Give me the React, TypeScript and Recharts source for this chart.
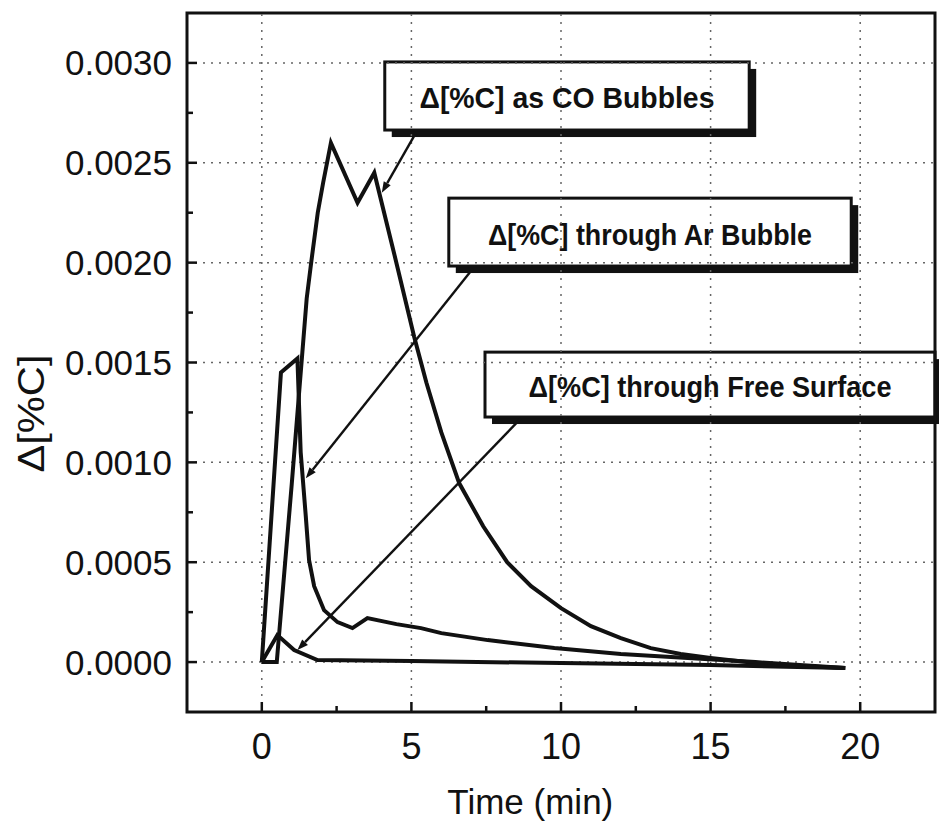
import { LineChart, Line, XAxis, YAxis, ReferenceLine, ReferenceArea, Label } from 'recharts'

// time (min) and Δ[%C]
const coTime = [0, 0.5, 1.0, 1.5, 1.65, 1.87, 2.05, 2.31, 3.2, 3.76, 4.4, 5.09, 5.5, 6.0, 6.6, 7.4, 8.2, 9.0, 10.0, 11.0, 12.0, 13.0, 14.0, 15.0, 16.5, 18.0, 19.5]
const coValue = [0, 0, 0.00089, 0.00182, 0.002, 0.00225, 0.0024, 0.0026, 0.0023, 0.00245, 0.00206, 0.00163, 0.0014, 0.00115, 0.000895, 0.00068, 0.0005, 0.00038, 0.00027, 0.00018, 0.00012, 0.00007, 0.00004, 0.00002, -0.000005, -0.00002, -0.00003]

const arTime = [0, 0.64, 1.19, 1.3, 1.47, 1.58, 1.75, 2.08, 2.53, 3.03, 3.53, 4.5, 5.32, 6.0, 7.55, 9.78, 12.0, 14.24, 16.5, 19.5]
const arValue = [0, 0.00145, 0.00152, 0.00105, 0.00073, 0.00051, 0.00038, 0.00026, 0.0002, 0.00017, 0.00022, 0.00019, 0.00017, 0.000145, 0.00011, 0.00007, 0.00004, 0.00002, 0, -0.00003]

const fsTime = [0, 0.52, 1.08, 1.86, 5, 10, 15, 19.5]
const fsValue = [0, 0.000135, 0.00006, 0.00001, 0.000005, -0.000005, -0.000015, -0.00003]

const xDomain = [-2.5, 22.5]
const yDomain = [-0.00025, 0.00325]
const xMajor = [0, 5, 10, 15, 20]
const xMinor = [2.5, 7.5, 12.5, 17.5]
const yMajor = [0, 0.0005, 0.001, 0.0015, 0.002, 0.0025, 0.003]
const yMinor = [0.00025, 0.00075, 0.00125, 0.00175, 0.00225, 0.00275]

// note boxes: [x1, x2, y1, y2] and text
const notes = [
  { text: 'Δ[%C] as CO Bubbles', box: [4.11, 16.29, 0.002664, 0.003005], textWidth: 295 },
  { text: 'Δ[%C] through Ar Bubble', box: [6.25, 19.7, 0.001983, 0.002323], textWidth: 324 },
  { text: 'Δ[%C] through Free Surface', box: [7.46, 22.5, 0.001227, 0.001552], textWidth: 363 },
]
// arrows: from box to curve
const arrows = [
  [[5.15, 0.00265], [4.01, 0.00235]],
  [[7.05, 0.00197], [1.47, 0.00092]],
  [[8.66, 0.00122], [1.19, 0.00006]],
]

const toSeries = (t: number[], v: number[]) => t.map((time, i) => ({ time, value: v[i] }))
const coData = toSeries(coTime, coValue)
const arData = toSeries(arTime, arValue)
const fsData = toSeries(fsTime, fsValue)

const xTicks = [...xMajor, ...xMinor].sort((a, b) => a - b)
const yTicks = [...yMajor, ...yMinor].sort((a, b) => a - b)
const isMajor = (list: number[], v: number) => list.some(m => Math.abs(m - v) < 1e-9)

const INK = '#111'
const FONT = '"Liberation Sans", Arial, Helvetica, sans-serif'

// eslint-disable-next-line @typescript-eslint/no-explicit-any
function BottomTick({ x, y, payload }: any) {
  const major = isMajor(xMajor, payload.value)
  return (
    <g>
      <line x1={x} x2={x} y1={y} y2={y - (major ? 10 : 6)} stroke={INK} strokeWidth={2.5} />
      {major && (
        <text x={x} y={y + 47} textAnchor="middle" fontSize={36} fontFamily={FONT} fill={INK}>
          {payload.value}
        </text>
      )}
    </g>
  )
}

// eslint-disable-next-line @typescript-eslint/no-explicit-any
function TopTick({ x, y, payload }: any) {
  const major = isMajor(xMajor, payload.value)
  return <line x1={x} x2={x} y1={y} y2={y + (major ? 10 : 6)} stroke={INK} strokeWidth={2.5} />
}

// eslint-disable-next-line @typescript-eslint/no-explicit-any
function LeftTick({ x, y, payload }: any) {
  const major = isMajor(yMajor, payload.value)
  return (
    <g>
      <line x1={x} x2={x + (major ? 10 : 6)} y1={y} y2={y} stroke={INK} strokeWidth={2.5} />
      {major && (
        <text x={x - 15} y={y} textAnchor="end" dominantBaseline="central" fontSize={35} fontFamily={FONT} fill={INK}>
          {payload.value.toFixed(4)}
        </text>
      )}
    </g>
  )
}

// eslint-disable-next-line @typescript-eslint/no-explicit-any
function NoteBox({ x, y, width, height, text, textWidth }: any) {
  return (
    <g>
      <rect x={x + 7} y={y + 7} width={width} height={height} fill={INK} />
      <rect x={x} y={y} width={width} height={height} fill="#fff" stroke={INK} strokeWidth={3} />
      <text
        x={x + width / 2}
        y={y + height / 2 + 2}
        textAnchor="middle"
        dominantBaseline="central"
        fontSize={30}
        fontWeight="bold"
        fontFamily={FONT}
        fill={INK}
        textLength={textWidth}
        lengthAdjust="spacingAndGlyphs"
      >
        {text}
      </text>
    </g>
  )
}

// eslint-disable-next-line @typescript-eslint/no-explicit-any
function Arrow({ x1, y1, x2, y2 }: any) {
  const ang = Math.atan2(y2 - y1, x2 - x1)
  const len = 11
  const half = 4
  const bx = x2 - len * Math.cos(ang)
  const by = y2 - len * Math.sin(ang)
  const px = -Math.sin(ang) * half
  const py = Math.cos(ang) * half
  return (
    <g>
      <line x1={x1} y1={y1} x2={bx} y2={by} stroke={INK} strokeWidth={2.4} />
      <polygon points={`${x2},${y2} ${bx + px},${by + py} ${bx - px},${by - py}`} fill={INK} />
    </g>
  )
}

export default function App() {
  return (
    <div style={{ position: 'absolute', left: 0, top: 0, background: '#fff' }}>
      <LineChart width={939} height={832} margin={{ top: 13, right: 4, bottom: 0, left: 0 }}>
        <XAxis
          dataKey="time"
          type="number"
          domain={xDomain}
          ticks={xTicks}
          interval={0}
          allowDataOverflow
          height={120}
          tickSize={0}
          tickMargin={0}
          tickLine={false}
          axisLine={false}
          tick={BottomTick}
        >
          <Label
            content={({ viewBox }: any) => (
              <text
                x={viewBox.x + viewBox.width * 0.459}
                y={viewBox.y + 102}
                textAnchor="middle"
                fontSize={35}
                fontFamily={FONT}
                fill={INK}
              >
                Time (min)
              </text>
            )}
          />
        </XAxis>
        <XAxis
          xAxisId="top"
          orientation="top"
          type="number"
          domain={xDomain}
          ticks={xTicks}
          interval={0}
          allowDataOverflow
          height={0}
          tickSize={0}
          tickMargin={0}
          tickLine={false}
          axisLine={false}
          tick={TopTick}
        />
        <YAxis
          type="number"
          domain={yDomain}
          ticks={yTicks}
          interval={0}
          allowDataOverflow
          width={187}
          tickSize={0}
          tickMargin={0}
          tickLine={false}
          axisLine={false}
          tick={LeftTick}
        >
          <Label
            content={({ viewBox }: any) => {
              const cx = 32
              const cy = viewBox.y + viewBox.height * 0.573
              return (
                <text
                  x={cx}
                  y={cy}
                  transform={`rotate(-90, ${cx}, ${cy})`}
                  textAnchor="middle"
                  dominantBaseline="central"
                  fontSize={36}
                  fontFamily={FONT}
                  fill={INK}
                  textLength={118}
                  lengthAdjust="spacingAndGlyphs"
                >
                  Δ[%C]
                </text>
              )
            }}
          />
        </YAxis>

        {xMajor.map(v => (
          <ReferenceLine key={`gx${v}`} x={v} stroke="#666" strokeWidth={1.5} strokeDasharray="2 6" />
        ))}
        {yMajor.map(v => (
          <ReferenceLine key={`gy${v}`} y={v} stroke="#666" strokeWidth={1.5} strokeDasharray="2 6" />
        ))}

        <Line data={coData} dataKey="value" type="linear" stroke={INK} strokeWidth={4} dot={false} isAnimationActive={false} />
        <Line data={arData} dataKey="value" type="linear" stroke={INK} strokeWidth={4} dot={false} isAnimationActive={false} />
        <Line data={fsData} dataKey="value" type="linear" stroke={INK} strokeWidth={4} dot={false} isAnimationActive={false} />

        {arrows.map((seg, i) => (
          <ReferenceLine
            key={`ar${i}`}
            segment={[{ x: seg[0][0], y: seg[0][1] }, { x: seg[1][0], y: seg[1][1] }]}
            ifOverflow="visible"
            shape={(p: any) => <Arrow {...p} />}
          />
        ))}

        {notes.map((n, i) => (
          <ReferenceArea
            key={`nb${i}`}
            x1={n.box[0]}
            x2={n.box[1]}
            y1={n.box[2]}
            y2={n.box[3]}
            ifOverflow="visible"
            shape={(p: any) => <NoteBox {...p} text={n.text} textWidth={n.textWidth} />}
          />
        ))}

        <ReferenceArea
          x1={xDomain[0]}
          x2={xDomain[1]}
          y1={yDomain[0]}
          y2={yDomain[1]}
          ifOverflow="visible"
          fill="none"
          fillOpacity={0}
          stroke={INK}
          strokeWidth={3}
        />
      </LineChart>
    </div>
  )
}
